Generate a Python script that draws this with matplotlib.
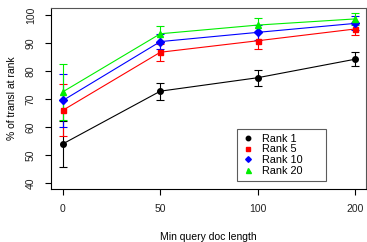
import matplotlib
matplotlib.use("Agg")
import matplotlib.pyplot as plt
import numpy as np

plt.rcParams['font.family'] = ['Liberation Sans', 'DejaVu Sans']

categories = ["0", "50", "100", "200"]
series_names = ["Rank 1", "Rank 5", "Rank 10", "Rank 20"]
rank1 = [54.0, 72.8, 77.6, 84.2]
rank1_err = [8.2, 3.0, 2.9, 2.5]
rank5 = [66.0, 86.7, 90.8, 95.0]
rank5_err = [9.3, 3.0, 3.0, 2.0]
rank10 = [69.5, 90.5, 93.8, 97.0]
rank10_err = [9.6, 2.6, 2.6, 2.5]
rank20 = [72.6, 93.3, 96.4, 98.6]
rank20_err = [10.0, 2.8, 2.5, 2.0]
colors = ["black", "#ff0000", "#0000ff", "#00ee00"]
markers = ["o", "s", "D", "^"]
msizes = [4.0, 3.6, 3.6, 4.5]

fig = plt.figure(figsize=(3.67, 2.42), dpi=100)
ax = fig.add_axes([51/367, 1-189/242, (366-51)/367, (189-8)/242])

x = np.arange(len(categories))
for vals, errs, c, m, ms, name in zip([rank1, rank5, rank10, rank20],
                                       [rank1_err, rank5_err, rank10_err, rank20_err],
                                       colors, markers, msizes, series_names):
    ax.errorbar(x, vals, yerr=errs, color=c, marker=m, markersize=ms,
                linewidth=0.8, elinewidth=0.8, capsize=3, capthick=0.8,
                label=name)

ax.set_xlim(-0.123, 3.113)
ax.set_ylim(37.86, 102.5)
ax.set_xticks(x)
ax.set_xticklabels(categories)
ax.set_yticks([40, 50, 60, 70, 80, 90, 100])
ax.set_yticklabels(["40", "50", "60", "70", "80", "90", "100"], rotation=90, va='center')
ax.tick_params(axis='both', labelsize=7.5, length=4, width=0.8, direction='out', pad=7,
               labelcolor='#222222')
for s in ax.spines.values():
    s.set_linewidth(0.8)
    s.set_color('#555555')
ax.spines['left'].set_color('black')
ax.spines['bottom'].set_color('black')

ax.set_xlabel("Min query doc length", fontsize=7.5, labelpad=13)
ax.set_ylabel("% of transl at rank", fontsize=7.5, labelpad=6)

handles = [plt.Line2D([], [], color=c, marker=m, linestyle='none', markersize=ms * 0.8)
           for c, m, ms in zip(colors, markers, msizes)]
leg = ax.legend(handles, series_names, loc='lower left',
                bbox_to_anchor=((237-51)/315, (189-181)/181, (326-237)/315, (181-126)/181),
                mode='expand', fontsize=7.8, frameon=True, fancybox=False,
                handlelength=1.0, handletextpad=0.8, labelspacing=0.05,
                borderaxespad=0, borderpad=0.5)
leg.get_frame().set_edgecolor('#333333')
leg.get_frame().set_linewidth(0.8)

fig.savefig("out.png", dpi=100)
